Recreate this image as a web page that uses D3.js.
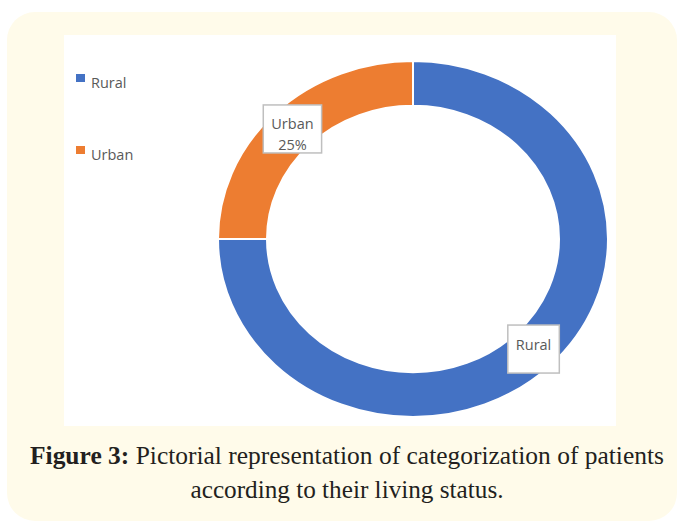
<!DOCTYPE html>
<html>
<head>
<meta charset="utf-8">
<script src="https://cdn.jsdelivr.net/npm/d3@7"></script>
<style>
  body { margin: 0; background: #fff; }
  svg { display: block; }
</style>
</head>
<body>
<div id="chart"></div>
<script>
const width = 679;
const height = 525;

// data
const categories = ['Rural', 'Urban'];
const values = [75, 25];
const labelLines = [['Rural'], ['Urban', '25%']];
const captionBold = 'Figure 3:';
const captionLines = [' Pictorial representation of categorization of patients', 'according to their living status.'];

const colors = d3.scaleOrdinal().domain(categories).range(['#4472c4', '#ed7d31']);

const svg = d3.select('#chart').append('svg')
    .attr('width', width)
    .attr('height', height);

// outer pale frame and white chart panel
svg.append('rect')
    .attr('x', 7).attr('y', 12)
    .attr('width', 670).attr('height', 509)
    .attr('rx', 28)
    .attr('fill', '#fffbea');

svg.append('rect')
    .attr('x', 64).attr('y', 35)
    .attr('width', 552).attr('height', 391)
    .attr('fill', '#fff');

// donut (slightly squashed vertically, like the picture)
const cx = 413, cy = 239;
const rOuter = 195, rInner = 146;
const squash = 178 / 195;

const data = categories.map((c, i) => ({ name: c, value: values[i], lines: labelLines[i] }));
const pie = d3.pie().sort(null).value(d => d.value);
const arcs = pie(data);

const arc = d3.arc().innerRadius(rInner).outerRadius(rOuter);
const mid = d3.arc().innerRadius((rInner + rOuter) / 2).outerRadius((rInner + rOuter) / 2);

const donut = svg.append('g')
    .attr('transform', `translate(${cx},${cy}) scale(1,${squash})`);

donut.selectAll('path')
    .data(arcs)
    .enter().append('path')
    .attr('d', arc)
    .attr('fill', d => colors(d.data.name))
    .attr('stroke', '#fff')
    .attr('stroke-width', 2)
    .attr('vector-effect', 'non-scaling-stroke');

// data labels in boxes at slice centroids
const labels = svg.append('g')
    .attr('font-family', '"Open Sans", sans-serif')
    .attr('font-size', '14.5px')
    .attr('fill', '#595959');

arcs.forEach(d => {
    const [mx, my] = mid.centroid(d);
    const x = cx + mx;
    const y = cy + my * squash;
    const g = labels.append('g');
    const box = g.append('rect')
        .attr('fill', '#fff')
        .attr('stroke', '#bfbfbf')
        .attr('stroke-width', 1.5);
    const lines = d.data.lines;
    const t = g.append('text').attr('text-anchor', 'middle');
    lines.forEach((line, i) => {
        const base = lines.length > 1 ? y + i * 21 : y + 1;
        t.append('tspan').attr('x', x).attr('y', base).text(line);
    });
    const bb = t.node().getBBox();
    const bw = bb.width + 16;
    const bh = 48;
    box.attr('x', x - bw / 2).attr('y', y - bh / 2)
        .attr('width', bw).attr('height', bh);
});

// legend
const legend = svg.append('g')
    .attr('font-family', '"Open Sans", sans-serif')
    .attr('font-size', '14.5px')
    .attr('fill', '#595959');

const item = legend.selectAll('g')
    .data(categories)
    .enter().append('g')
    .attr('transform', (d, i) => `translate(76, ${74 + i * 72})`);

item.append('rect')
    .attr('width', 9)
    .attr('height', 8)
    .attr('fill', d => colors(d));

item.append('text')
    .attr('x', 15)
    .attr('y', 14)
    .text(d => d);

// caption
const caption = svg.append('g')
    .attr('font-family', '"Liberation Serif", serif')
    .attr('font-size', '25px')
    .attr('fill', '#231f20')
    .attr('text-anchor', 'middle');

const line1 = caption.append('text')
    .attr('x', 347)
    .attr('y', 464)
    .attr('textLength', 634)
    .attr('lengthAdjust', 'spacingAndGlyphs');
line1.append('tspan').attr('font-weight', 'bold').text(captionBold);
line1.append('tspan').text(captionLines[0]);

caption.append('text')
    .attr('x', 347)
    .attr('y', 498)
    .attr('textLength', 313)
    .attr('lengthAdjust', 'spacingAndGlyphs')
    .text(captionLines[1]);
</script>
</body>
</html>
